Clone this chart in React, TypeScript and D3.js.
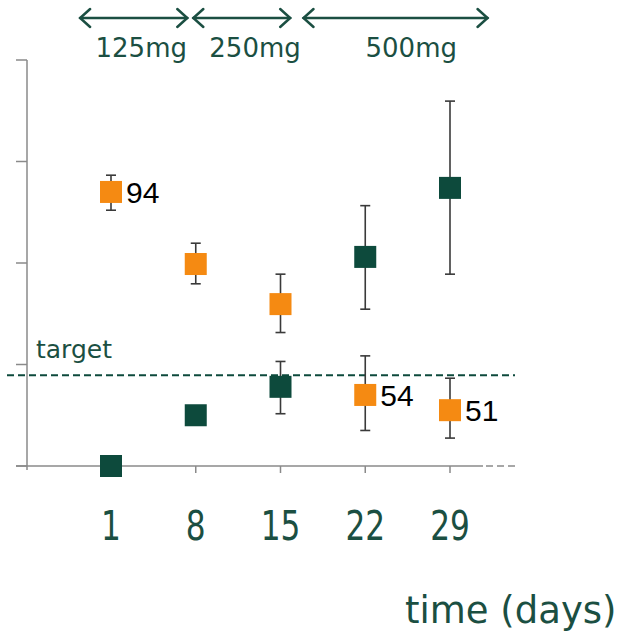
import React from 'react'
import * as d3 from 'd3'

// days on the x axis
const days = [1, 8, 15, 22, 29]

// orange series (labelled points) with error bars
const orangeValues = [94, 79.8, 71.9, 54, 51]
const orangeLow = [90.4, 75.9, 66.3, 47, 45.5]
const orangeHigh = [97.3, 83.9, 77.8, 61.7, 57.3]
const orangeLabels = ['94', '', '', '54', '51']

// dark green series with error bars (first two without)
const greenValues = [40, 50, 55.6, 81.2, 94.8]
const greenLow = [null, null, 50.3, 70.9, 77.8]
const greenHigh = [null, null, 60.6, 91.3, 111.9]

const yTicks = [40, 60, 80, 100, 120]
const target = 57.9

// dose periods, in days
const doseLabels = ['125mg', '250mg', '500mg']
const doseStart = [-1.55, 7.8, 16.9]
const doseEnd = [7.3, 15.8, 32.1]
const doseLabelDay = [3.5, 12.9, 25.8]

const GREEN = '#0d4a3c'
const TEXT_GREEN = '#1b4f42'
const ORANGE = '#f58a12'
const AXIS = '#8a8a8a'

const App = () => {
	const x = d3.scaleLinear().domain([1, 29]).range([111, 450])
	const y = d3.scaleLinear().domain([40, 120]).range([466, 60])
	const sq = 22
	const cap = 5

	const errBar = (d, lo, hi, key) => {
		if (lo == null || hi == null) return null
		return (
			<g key={key} stroke="#3a3a3a" strokeWidth={1.6}>
				<line x1={x(d)} x2={x(d)} y1={y(hi)} y2={y(lo)} />
				<line x1={x(d) - cap} x2={x(d) + cap} y1={y(hi)} y2={y(hi)} />
				<line x1={x(d) - cap} x2={x(d) + cap} y1={y(lo)} y2={y(lo)} />
			</g>
		)
	}

	const arrow = (x1, x2, yy, key) => (
		<g key={key} stroke={TEXT_GREEN} strokeWidth={2.5} fill="none" strokeLinecap="round">
			<line x1={x1} x2={x2} y1={yy} y2={yy} />
			<polyline points={`${x1 + 10},${yy - 9} ${x1},${yy} ${x1 + 10},${yy + 9}`} />
			<polyline points={`${x2 - 10},${yy - 9} ${x2},${yy} ${x2 - 10},${yy + 9}`} />
		</g>
	)

	return (
		<svg
			width={618}
			height={632}
			style={{ position: 'absolute', left: 0, top: 0, background: '#fff' }}
			fontFamily="DejaVu Sans, Verdana, sans-serif"
		>
			{/* dose arrows */}
			{doseLabels.map((lab, i) => (
				<g key={lab}>
					{arrow(x(doseStart[i]), x(doseEnd[i]), 18, 'a' + i)}
					<text x={x(doseLabelDay[i])} y={57} textAnchor="middle" fontSize={26} fill={TEXT_GREEN}>
						{lab}
					</text>
				</g>
			))}

			{/* y axis */}
			<line x1={27} x2={27} y1={y(120)} y2={470} stroke={AXIS} strokeWidth={1.5} />
			{yTicks.map((t) => (
				<line key={t} x1={16} x2={27} y1={y(t)} y2={y(t)} stroke={AXIS} strokeWidth={1.5} />
			))}

			{/* x axis */}
			<line x1={16} x2={483} y1={y(40)} y2={y(40)} stroke={AXIS} strokeWidth={1.5} />
			<line x1={486} x2={516} y1={y(40)} y2={y(40)} stroke={AXIS} strokeWidth={1.5} strokeDasharray="7,4" />
			{days.map((d) => (
				<line key={d} x1={x(d)} x2={x(d)} y1={y(40)} y2={y(40) + 7} stroke={AXIS} strokeWidth={1.5} />
			))}
			{days.map((d) => (
				<text
					key={d}
					textAnchor="middle"
					fontSize={40}
					fill={TEXT_GREEN}
					transform={`translate(${x(d)},540) scale(0.78,1)`}
				>
					{d}
				</text>
			))}
			<text x={405} y={623} fontSize={37} fill={TEXT_GREEN}>
				time (days)
			</text>

			{/* target line */}
			<line
				x1={7}
				x2={515}
				y1={y(target)}
				y2={y(target)}
				stroke={GREEN}
				strokeWidth={2}
				strokeDasharray="7,4"
			/>
			<text x={36} y={358} fontSize={25} fill={TEXT_GREEN}>
				target
			</text>

			{/* error bars */}
			{days.map((d, i) => errBar(d, greenLow[i], greenHigh[i], 'ge' + i))}
			{days.map((d, i) => errBar(d, orangeLow[i], orangeHigh[i], 'oe' + i))}

			{/* markers */}
			{days.map((d, i) => (
				<rect
					key={'g' + i}
					x={x(d) - sq / 2}
					y={y(greenValues[i]) - sq / 2}
					width={sq}
					height={sq}
					fill={GREEN}
				/>
			))}
			{days.map((d, i) => (
				<rect
					key={'o' + i}
					x={x(d) - sq / 2}
					y={y(orangeValues[i]) - sq / 2}
					width={sq}
					height={sq}
					fill={ORANGE}
				/>
			))}
			{days.map((d, i) =>
				orangeLabels[i] ? (
					<text
						key={'l' + i}
						x={x(d) + 15}
						y={y(orangeValues[i]) + 11}
						fontSize={30}
						fontFamily="Liberation Sans, Arial, sans-serif"
						fill="#000"
					>
						{orangeLabels[i]}
					</text>
				) : null
			)}
		</svg>
	)
}

export default App
